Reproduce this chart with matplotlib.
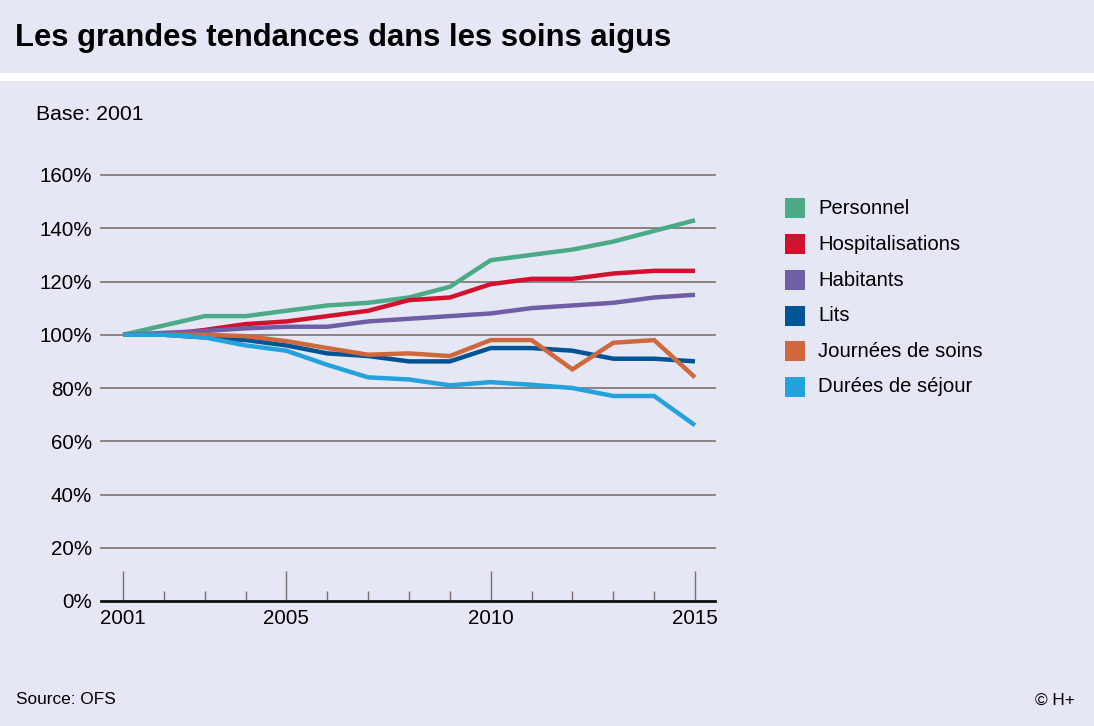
import matplotlib
matplotlib.use("Agg")
import matplotlib.pyplot as plt
from matplotlib.patches import Rectangle

plt.rcParams['font.family'] = ['Liberation Sans', 'DejaVu Sans']

years = list(range(2001, 2016))
series_names = ["Personnel", "Hospitalisations", "Habitants", "Lits",
                "Journées de soins", "Durées de séjour"]
personnel = [100, 103.5, 107, 107, 109, 111, 112, 114, 118, 128, 130, 132, 135, 139, 143]
hospitalisations = [100, 100, 101.8, 104, 105, 107, 109, 113, 114, 119, 121, 121, 123, 124, 124]
habitants = [100, 100.7, 101.4, 102.4, 103, 103, 105, 106, 107, 108, 110, 111, 112, 114, 115]
lits = [100, 100, 99, 98, 96, 93, 92, 90, 90, 95, 95, 94, 91, 91, 90]
journees = [100, 100, 100, 99.5, 97.6, 95, 92.5, 93, 92, 98, 98, 87, 97, 98, 84]
durees = [100, 100, 99, 96, 94, 88.7, 84, 83.2, 81, 82.2, 81.2, 80, 77, 77, 66]
colors = ["#4aab86", "#d2112f", "#6e5ea6", "#005395", "#cf683d", "#23a2dc"]
y_ticks = [0, 20, 40, 60, 80, 100, 120, 140, 160]
x_major = [2001, 2005, 2010, 2015]

BG = "#e5e7f4"
GRID = "#7b6f6f"

W, H = 1094, 726
fig = plt.figure(figsize=(W / 100, H / 100), dpi=100, facecolor=BG)

# white separator band under title
fig.add_artist(Rectangle((0, 1 - 81 / H), 1, 8 / H, transform=fig.transFigure,
                         facecolor="white", edgecolor="none", zorder=0))

fig.text(15 / W, 1 - 38 / H, "Les grandes tendances dans les soins aigus",
         fontsize=22.3, fontweight="bold", va="center", ha="left", color="black")
fig.text(36 / W, 1 - 115 / H, "Base: 2001", fontsize=15.3, va="center", ha="left")
fig.text(16 / W, 1 - 700 / H, "Source: OFS", fontsize=12.4, va="center", ha="left")
fig.text(1075 / W, 1 - 700 / H, "© H+", fontsize=12.4, va="center", ha="right")

ax = fig.add_axes([101 / W, 1 - 601 / H, 614 / W, 426 / H])
ax.set_facecolor(BG)
px_per_year = 572 / 14
ax.set_xlim(2001 - 22 / px_per_year, 2015 + 20 / px_per_year)
ax.set_ylim(0, 160)

all_series = [personnel, hospitalisations, habitants, lits, journees, durees]
for vals, c in zip(all_series, colors):
    ax.plot(years, vals, color=c, lw=3.2, solid_joinstyle="miter",
            solid_capstyle="butt", zorder=3)

for s in ["top", "right", "left"]:
    ax.spines[s].set_visible(False)
ax.spines["bottom"].set_color("#111111")
ax.spines["bottom"].set_linewidth(2)
ax.spines["bottom"].set_zorder(4)

ax.set_yticks(y_ticks)
ax.set_yticklabels([f"{v}%" for v in y_ticks])
for v in y_ticks[1:]:
    ax.axhline(v, color=GRID, lw=1.2, zorder=1, clip_on=False)
ax.tick_params(axis="y", length=0, pad=6.5, labelsize=14.8)

ax.set_xticks(x_major)
ax.set_xticklabels([str(y) for y in x_major])
ax.set_xticks([y for y in years if y not in x_major], minor=True)
ax.tick_params(axis="x", which="major", direction="in", length=21.6, width=1,
               color=GRID, pad=6, labelsize=14.8)
ax.tick_params(axis="x", which="minor", direction="in", length=7.2, width=1,
               color=GRID)

# legend (manual)
legend_y = [208, 244, 280, 316, 351, 387]
for name, c, yy in zip(series_names, colors, legend_y):
    fig.add_artist(Rectangle((785 / W, 1 - (yy + 10) / H), 20 / W, 20 / H,
                             transform=fig.transFigure, facecolor=c,
                             edgecolor="none"))
    fig.text(818 / W, 1 - yy / H, name, fontsize=14.6, va="center", ha="left")

fig.savefig("out.png", dpi=100, facecolor=BG)
